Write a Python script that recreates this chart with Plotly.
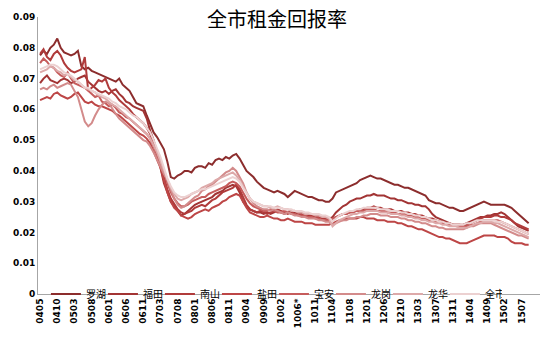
import plotly.graph_objects as go

TICK_LABELS = ["0405", "0410", "0503", "0508", "0601", "0606", "0611", "0703", "0708",
               "0801", "0806", "0811", "0904", "0909", "1002", "1006*", "1011", "1104",
               "1108", "1201", "1206", "1210", "1303", "1307", "1311", "1404", "1409",
               "1502", "1507"]

luohu = [0.0775, 0.079, 0.078, 0.080, 0.081, 0.083, 0.080, 0.0785, 0.078, 0.0775, 0.078, 0.079, 0.074, 0.073, 0.0735, 0.0725, 0.072, 0.0715, 0.071, 0.0705, 0.070, 0.0695, 0.069, 0.070, 0.068, 0.067, 0.066, 0.064, 0.062, 0.0615, 0.061,
         0.058, 0.055, 0.0525, 0.051, 0.049, 0.047, 0.043, 0.038, 0.0375, 0.0385,
         0.039, 0.040, 0.040, 0.0395, 0.041, 0.0415, 0.0415, 0.041, 0.0425, 0.042, 0.0435, 0.044, 0.0435, 0.0445, 0.044, 0.045, 0.0455, 0.044, 0.042, 0.040,
         0.039, 0.038, 0.0365, 0.0355, 0.0345, 0.034, 0.0335, 0.033, 0.0335, 0.033, 0.0325, 0.0315, 0.0325, 0.0335, 0.033, 0.0325, 0.032, 0.0315, 0.0315, 0.031, 0.0305, 0.0305, 0.030, 0.030, 0.031,
         0.033, 0.0335, 0.034, 0.0345, 0.035, 0.0355, 0.036, 0.037, 0.0375, 0.038, 0.0385, 0.038, 0.0375, 0.0375, 0.037,
         0.0365, 0.036, 0.0355, 0.0355, 0.035, 0.0345, 0.0345, 0.034, 0.0335, 0.033, 0.0325, 0.032, 0.0305, 0.030, 0.0295, 0.0295, 0.029, 0.0285, 0.028, 0.028,
         0.0275, 0.027, 0.027, 0.0275, 0.028, 0.0285, 0.029, 0.0295, 0.030, 0.0295, 0.029, 0.029, 0.029, 0.029, 0.029, 0.0285, 0.028, 0.027, 0.026, 0.025, 0.024, 0.023]

futian = [0.0685, 0.070, 0.071, 0.0695, 0.069, 0.0685, 0.0695, 0.070, 0.0695, 0.0685, 0.069, 0.070, 0.0705, 0.071, 0.069, 0.068, 0.067, 0.066, 0.0655, 0.066, 0.065, 0.066, 0.0665, 0.065, 0.064, 0.0625, 0.062, 0.061, 0.0605, 0.060, 0.0595,
          0.057, 0.053, 0.050, 0.046, 0.041, 0.036, 0.033, 0.030, 0.0285, 0.027,
          0.0255, 0.026, 0.027, 0.028, 0.029, 0.0295, 0.030, 0.0305, 0.031, 0.0315, 0.0325, 0.033, 0.0335, 0.0345, 0.035, 0.0355, 0.035, 0.033, 0.030, 0.0285,
          0.0275, 0.027, 0.0265, 0.0265, 0.026, 0.0265, 0.026, 0.0265, 0.027, 0.0265, 0.026, 0.0265, 0.027, 0.0265, 0.026, 0.026, 0.0255, 0.0255, 0.025, 0.0255, 0.025, 0.025, 0.0245, 0.0245, 0.025,
          0.0265, 0.0275, 0.0285, 0.029, 0.030, 0.0305, 0.031, 0.031, 0.0315, 0.032, 0.032, 0.0325, 0.032, 0.032, 0.032,
          0.0315, 0.031, 0.031, 0.0305, 0.0305, 0.030, 0.0295, 0.0295, 0.029, 0.029, 0.0285, 0.0285, 0.0275, 0.026, 0.025, 0.0245, 0.024, 0.0235, 0.023, 0.0225,
          0.0225, 0.0225, 0.0225, 0.023, 0.0235, 0.024, 0.0245, 0.025, 0.025, 0.0255, 0.0255, 0.026, 0.026, 0.0265, 0.026, 0.025, 0.024, 0.023, 0.022, 0.0215, 0.021, 0.0205]

nanshan = [0.078, 0.0795, 0.077, 0.076, 0.078, 0.079, 0.0775, 0.075, 0.0735, 0.0725, 0.072, 0.0725, 0.073, 0.077, 0.066, 0.067, 0.068, 0.0695, 0.069, 0.070, 0.067, 0.0655, 0.0645, 0.063, 0.062, 0.061, 0.060, 0.0585, 0.0575, 0.0565, 0.0555,
           0.054, 0.052, 0.049, 0.046, 0.043, 0.038, 0.034, 0.031, 0.029, 0.0275,
           0.0265, 0.026, 0.0265, 0.027, 0.028, 0.0285, 0.029, 0.0285, 0.0295, 0.0305, 0.031, 0.032, 0.033, 0.0335, 0.034, 0.0345, 0.0355, 0.034, 0.0315, 0.029,
           0.0275, 0.027, 0.0265, 0.027, 0.0265, 0.026, 0.0265, 0.027, 0.0275, 0.027, 0.0265, 0.026, 0.0265, 0.027, 0.0265, 0.026, 0.0255, 0.026, 0.0255, 0.025, 0.025, 0.0245, 0.0245, 0.024, 0.0245,
           0.025, 0.0255, 0.026, 0.026, 0.0265, 0.027, 0.027, 0.0275, 0.0275, 0.028, 0.028, 0.0285, 0.028, 0.028, 0.0275,
           0.0275, 0.0275, 0.027, 0.027, 0.027, 0.0265, 0.0265, 0.026, 0.026, 0.0255, 0.0255, 0.025, 0.0245, 0.0245, 0.024, 0.0235, 0.0235, 0.023, 0.023, 0.0225,
           0.0225, 0.0225, 0.022, 0.0225, 0.023, 0.0235, 0.024, 0.0245, 0.025, 0.025, 0.025, 0.0255, 0.0255, 0.025, 0.025, 0.0245, 0.024, 0.023, 0.0225, 0.022, 0.0215, 0.021]

yantian = [0.063, 0.0635, 0.064, 0.0635, 0.065, 0.0655, 0.0645, 0.064, 0.0635, 0.064, 0.065, 0.0655, 0.064, 0.0625, 0.062, 0.0625, 0.0615, 0.061, 0.061, 0.0605, 0.060, 0.0595, 0.0585, 0.058, 0.057, 0.056, 0.055, 0.054, 0.053, 0.052, 0.0515,
           0.0505, 0.049, 0.0465, 0.044, 0.041, 0.037, 0.033, 0.030, 0.028, 0.027,
           0.0255, 0.025, 0.0245, 0.025, 0.026, 0.0265, 0.027, 0.0275, 0.027, 0.028, 0.0285, 0.029, 0.030, 0.0305, 0.0315, 0.032, 0.0325, 0.032, 0.030, 0.028,
           0.0265, 0.026, 0.0255, 0.025, 0.025, 0.0255, 0.025, 0.0245, 0.0245, 0.024, 0.024, 0.0245, 0.024, 0.0235, 0.0235, 0.0235, 0.023, 0.023, 0.023, 0.0225, 0.0225, 0.0225, 0.0225, 0.0225, 0.023,
           0.0235, 0.024, 0.024, 0.0245, 0.0245, 0.0245, 0.0245, 0.025, 0.025, 0.0245, 0.0245, 0.0245, 0.024, 0.024, 0.024,
           0.0235, 0.0235, 0.0235, 0.023, 0.023, 0.0225, 0.022, 0.022, 0.0215, 0.021, 0.021, 0.0205, 0.020, 0.0195, 0.019, 0.0185, 0.0185, 0.018, 0.018, 0.0175,
           0.017, 0.0165, 0.0165, 0.0165, 0.017, 0.0175, 0.018, 0.0185, 0.019, 0.019, 0.019, 0.019, 0.0185, 0.0185, 0.0185, 0.018, 0.017, 0.0165, 0.0165, 0.0165, 0.016, 0.016]

baoan = [0.075, 0.0765, 0.0755, 0.074, 0.0735, 0.072, 0.071, 0.0705, 0.072, 0.070, 0.0685, 0.068, 0.0675, 0.067, 0.066, 0.065, 0.064, 0.0645, 0.0625, 0.062, 0.061, 0.0615, 0.0605, 0.059, 0.0585, 0.0575, 0.057, 0.056, 0.055, 0.054, 0.053,
         0.052, 0.0505, 0.048, 0.0455, 0.043, 0.040, 0.036, 0.033, 0.031, 0.0295,
         0.0285, 0.0285, 0.029, 0.030, 0.0305, 0.031, 0.0315, 0.0315, 0.0325, 0.033, 0.0335, 0.034, 0.0345, 0.035, 0.036, 0.0365, 0.036, 0.035, 0.033, 0.031,
         0.0295, 0.0285, 0.028, 0.0275, 0.027, 0.027, 0.0275, 0.027, 0.0265, 0.0265, 0.027, 0.0265, 0.026, 0.026, 0.0255, 0.0255, 0.0255, 0.025, 0.025, 0.0245, 0.0245, 0.024, 0.024, 0.024, 0.0245,
         0.025, 0.0255, 0.026, 0.026, 0.0265, 0.0265, 0.027, 0.027, 0.027, 0.0275, 0.0275, 0.0275, 0.027, 0.027, 0.027,
         0.0265, 0.0265, 0.0265, 0.026, 0.026, 0.026, 0.0255, 0.0255, 0.025, 0.025, 0.0245, 0.0245, 0.024, 0.024, 0.0235, 0.0235, 0.023, 0.023, 0.0225, 0.0225,
         0.022, 0.022, 0.022, 0.022, 0.0225, 0.0225, 0.023, 0.0235, 0.024, 0.024, 0.024, 0.024, 0.024, 0.0235, 0.023, 0.0225, 0.022, 0.0215, 0.021, 0.0205, 0.020, 0.0195]

longgang = [0.0665, 0.067, 0.0665, 0.0675, 0.068, 0.067, 0.0675, 0.068, 0.0685, 0.068, 0.066, 0.064, 0.060, 0.056, 0.0545, 0.0555, 0.058, 0.060, 0.0615, 0.0625, 0.062, 0.060, 0.0585, 0.057, 0.056, 0.055, 0.054, 0.053, 0.052, 0.051, 0.050,
            0.0495, 0.048, 0.046, 0.0435, 0.041, 0.039, 0.037, 0.034, 0.031, 0.029,
            0.028, 0.0285, 0.0295, 0.0305, 0.0315, 0.032, 0.0335, 0.034, 0.035, 0.0355, 0.0365, 0.0375, 0.0385, 0.0395, 0.040, 0.041, 0.040, 0.038, 0.036, 0.033,
            0.031, 0.0295, 0.0285, 0.028, 0.0275, 0.0275, 0.027, 0.0275, 0.027, 0.0265, 0.026, 0.0265, 0.026, 0.0255, 0.0255, 0.025, 0.025, 0.0245, 0.0245, 0.0245, 0.024, 0.024, 0.0235, 0.0235, 0.0225,
            0.023, 0.0235, 0.024, 0.024, 0.0245, 0.0245, 0.025, 0.025, 0.0255, 0.0255, 0.026, 0.026, 0.026, 0.0255, 0.0255,
            0.0255, 0.025, 0.025, 0.025, 0.0245, 0.0245, 0.024, 0.024, 0.0235, 0.0235, 0.023, 0.023, 0.0225, 0.022, 0.022, 0.0215, 0.0215, 0.021, 0.021, 0.021,
            0.021, 0.021, 0.021, 0.0215, 0.022, 0.022, 0.0225, 0.023, 0.023, 0.023, 0.023, 0.0225, 0.022, 0.0215, 0.021, 0.0205, 0.020, 0.0195, 0.019, 0.019, 0.0185, 0.018]

longhua = [0.072, 0.0725, 0.073, 0.074, 0.0735, 0.0725, 0.072, 0.071, 0.0715, 0.0705, 0.0695, 0.069, 0.068, 0.067, 0.0665, 0.066, 0.0655, 0.0645, 0.064, 0.0635, 0.0625, 0.0615, 0.061, 0.060, 0.059, 0.058, 0.057, 0.056, 0.055, 0.054, 0.053,
           0.052, 0.0505, 0.0485, 0.046, 0.043, 0.040, 0.037, 0.0345, 0.0325, 0.031,
           0.0305, 0.031, 0.0315, 0.0325, 0.033, 0.0335, 0.0345, 0.035, 0.0355, 0.036, 0.037, 0.0375, 0.038, 0.0385, 0.039, 0.0395, 0.0385, 0.037, 0.035, 0.033,
           0.031, 0.030, 0.0295, 0.029, 0.0285, 0.0285, 0.028, 0.028, 0.0285, 0.028, 0.0275, 0.0275, 0.027, 0.027, 0.0265, 0.0265, 0.026, 0.026, 0.026, 0.0255, 0.0255, 0.025, 0.025, 0.0245, 0.022,
           0.023, 0.024, 0.0245, 0.025, 0.0255, 0.026, 0.026, 0.0265, 0.0265, 0.027, 0.027, 0.027, 0.027, 0.0265, 0.0265,
           0.0265, 0.026, 0.026, 0.026, 0.0255, 0.0255, 0.025, 0.025, 0.0245, 0.0245, 0.024, 0.024, 0.0235, 0.0235, 0.023, 0.023, 0.0225, 0.0225, 0.022, 0.022,
           0.022, 0.0215, 0.0215, 0.0215, 0.022, 0.0225, 0.023, 0.023, 0.0235, 0.0235, 0.0235, 0.023, 0.023, 0.0225, 0.022, 0.0215, 0.021, 0.0205, 0.020, 0.0195, 0.019, 0.0185]

quanshi = [0.073, 0.0735, 0.074, 0.0745, 0.0745, 0.074, 0.073, 0.072, 0.0715, 0.071, 0.070, 0.069, 0.068, 0.067, 0.067, 0.066, 0.0655, 0.065, 0.0645, 0.064, 0.0635, 0.0625, 0.062, 0.061, 0.0605, 0.060, 0.059, 0.058, 0.0575, 0.0565, 0.0555,
           0.054, 0.0525, 0.050, 0.0475, 0.0445, 0.041, 0.0375, 0.035, 0.033, 0.032,
           0.0315, 0.0315, 0.032, 0.0325, 0.033, 0.0335, 0.034, 0.034, 0.0345, 0.035, 0.0355, 0.036, 0.0365, 0.037, 0.0375, 0.038, 0.0375, 0.0365, 0.0345, 0.0325,
           0.031, 0.030, 0.0295, 0.029, 0.0285, 0.0285, 0.0285, 0.028, 0.028, 0.028, 0.0275, 0.0275, 0.0275, 0.027, 0.027, 0.027, 0.0265, 0.0265, 0.026, 0.026, 0.026, 0.0255, 0.0255, 0.025, 0.0235,
           0.0245, 0.0255, 0.026, 0.0265, 0.027, 0.027, 0.0275, 0.0275, 0.028, 0.028, 0.028, 0.028, 0.028, 0.0275, 0.0275,
           0.0275, 0.027, 0.027, 0.027, 0.0265, 0.0265, 0.026, 0.026, 0.0255, 0.0255, 0.025, 0.025, 0.0245, 0.024, 0.024, 0.0235, 0.0235, 0.023, 0.023, 0.0225,
           0.0225, 0.0225, 0.0225, 0.023, 0.023, 0.0235, 0.024, 0.024, 0.024, 0.024, 0.024, 0.024, 0.0235, 0.0235, 0.023, 0.0225, 0.022, 0.0215, 0.021, 0.0205, 0.020, 0.0195]

SERIES = [("罗湖", luohu, "#8C2D2D"), ("福田", futian, "#A23434"), ("南山", nanshan, "#B03B3B"),
          ("盐田", yantian, "#BD4646"), ("宝安", baoan, "#C65C5C"), ("龙岗", longgang, "#D38B8B"),
          ("龙华", longhua, "#DDA9A9"), ("全市", quanshi, "#ECD1D1")]

fig = go.Figure()
for name, vals, color in SERIES:
    fig.add_trace(go.Scatter(x=list(range(len(vals))), y=vals, mode="lines", name=name,
                             line=dict(color=color, width=2)))

fig.update_layout(
    width=554, height=340,
    margin=dict(l=38, r=14, t=16, b=42),
    paper_bgcolor="white", plot_bgcolor="white",
    title=dict(text="全市租金回报率", x=0.5, xref="container", xanchor="center",
               y=0.94, yanchor="middle",
               font=dict(family="Noto Sans CJK SC", size=20, color="black")),
    showlegend=True,
    legend=dict(orientation="h", x=0.47, xanchor="center", y=0, yanchor="middle",
                bgcolor="rgba(0,0,0,0)", font=dict(family="Noto Sans CJK SC", size=10, color="black"),
                itemwidth=30, tracegroupgap=0, entrywidth=12, entrywidthmode="pixels"),
    font=dict(family="DejaVu Sans", size=9, color="black"),
)
fig.update_xaxes(range=[-0.6, 145.3], showgrid=False, zeroline=False, showline=True,
                 linecolor="#A6A6A6", linewidth=1,
                 tickmode="array", tickvals=[5 * k for k in range(len(TICK_LABELS))],
                 ticktext=TICK_LABELS, tickangle=-90, ticks="",
                 tickfont=dict(family="DejaVu Sans", size=9, color="black", weight="bold"))
fig.update_yaxes(range=[0, 0.09], showgrid=False, zeroline=False, showline=True,
                 linecolor="#A6A6A6", linewidth=1,
                 tickmode="array", tickvals=[0, 0.01, 0.02, 0.03, 0.04, 0.05, 0.06, 0.07, 0.08, 0.09],
                 ticktext=["0", "0.01", "0.02", "0.03", "0.04", "0.05", "0.06", "0.07", "0.08", "0.09"],
                 ticks="", tickfont=dict(family="DejaVu Sans", size=9, color="black", weight="bold"))

fig.write_html("out.html")
